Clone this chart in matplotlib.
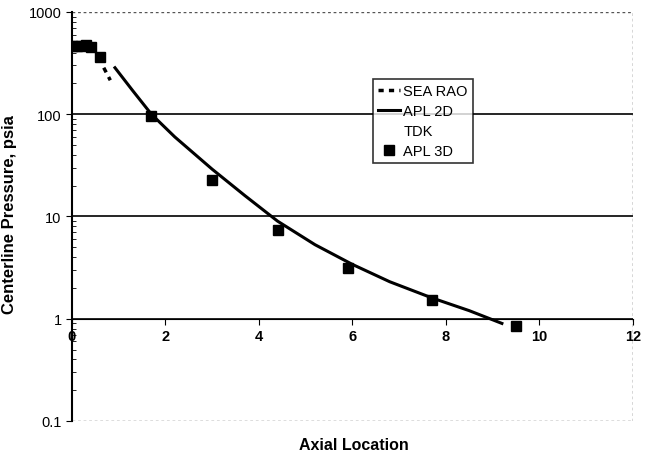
import matplotlib.pyplot as plt
import numpy as np

# APL 3D points
apl3d_x = [0.0, 0.1, 0.2, 0.3, 0.4, 0.6, 1.7, 3.0, 4.4, 5.9, 7.7, 9.5]
apl3d_y = [465, 465, 470, 475, 450, 365, 96, 22.5, 7.4, 3.1, 1.53, 0.84]

# APL 2D line
apl2d_x = [0.92, 1.3, 1.7, 2.2, 3.0, 3.7, 4.4, 5.2, 6.0, 6.8, 7.7, 8.5, 9.2]
apl2d_y = [285, 170, 100, 60, 29, 16, 9.0, 5.3, 3.4, 2.3, 1.6, 1.2, 0.9]

# SEA RAO short dashed piece
sea_x = [0.68, 0.82]
sea_y = [285, 215]

xticks = [0, 2, 4, 6, 8, 10, 12]
yticks = [0.1, 1, 10, 100, 1000]
ytick_labels = ['0.1', '1', '10', '100', '1000']

plt.rcParams['font.family'] = ['Liberation Sans', 'DejaVu Sans']
fig = plt.figure(figsize=(6.45, 4.56), dpi=100)
ax = fig.add_axes([0.1116, 0.0746, 0.8694, 0.8969])

ax.set_yscale('log')
ax.set_xlim(0, 12)
ax.set_ylim(0.1, 1000)

for g in [1, 10, 100]:
    ax.axhline(g, color='black', lw=1.2, zorder=1)
ax.axhline(0.1, color='#555555', lw=1, ls=(0, (2, 2)), zorder=1)
ax.axhline(1000, color='#555555', lw=1, ls=(0, (2, 2)), zorder=1)
ax.axvline(12, color='#333333', lw=1, ls=(0, (2, 2)), zorder=1)

ax.plot(sea_x, sea_y, color='black', lw=2.5, ls=(0, (1.5, 1.5)), label='SEA RAO')
ax.plot(apl2d_x, apl2d_y, color='black', lw=2.2, label='APL 2D')
ax.plot([], [], color='none', label='TDK')
ax.plot(apl3d_x, apl3d_y, 's', color='black', ms=7, label='APL 3D', zorder=5)

for s in ['top', 'right']:
    ax.spines[s].set_visible(False)
ax.spines['bottom'].set_position(('data', 1))
ax.spines['left'].set_linewidth(1.5)

ax.set_xticks(xticks)
ax.set_xticklabels([str(t) for t in xticks], fontweight='bold', fontsize=10.5)
ax.set_yticks(yticks)
ax.set_yticklabels(ytick_labels, fontsize=10.5)
ax.tick_params(axis='x', direction='out', length=4)
ax.tick_params(axis='y', which='major', direction='out', length=4)
ax.tick_params(axis='y', which='minor', direction='in', length=3)

ax.set_ylabel('Centerline Pressure, psia', fontweight='bold', fontsize=12)
ax.yaxis.set_label_coords(-0.098, 0.506)
fig.text(0.548, 0.022, 'Axial Location', ha='center', va='center', fontweight='bold', fontsize=11.5)

leg = ax.legend(loc='upper left', bbox_to_anchor=(0.5365, 0.836), frameon=True,
                fancybox=False, edgecolor='black', fontsize=10.5, handlelength=1.5,
                handletextpad=0.25, borderpad=0.35, labelspacing=0.4, borderaxespad=0)
leg.get_frame().set_linewidth(1.2)

fig.savefig('out.png', dpi=100)
